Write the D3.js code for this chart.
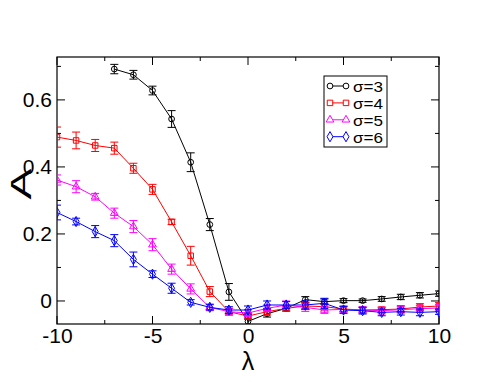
<!DOCTYPE html>
<html><head><meta charset="utf-8">
<script src="https://cdn.jsdelivr.net/npm/d3@7"></script>
<style>body{margin:0;background:#fff}svg{display:block}text{font-family:"Liberation Sans",Arial,sans-serif}</style>
</head><body><svg id="c" width="494" height="382"></svg>
<script>
const lambda = [-10,-9,-8,-7,-6,-5,-4,-3,-2,-1,0,1,2,3,4,5,6,7,8,9,10];
const sigma3 = [null,null,null,0.692,0.675,0.628,0.543,0.414,0.228,0.027,-0.061,-0.038,-0.022,0.004,-0.002,0.001,0.001,0.006,0.012,0.017,0.022];
const sigma3Err = [null,null,null,0.014,0.013,0.013,0.025,0.028,0.018,0.025,0.01,0.01,0.008,0.009,0.008,0.006,0.005,0.007,0.008,0.008,0.008];
const sigma4 = [0.489,0.479,0.464,0.456,0.396,0.333,0.236,0.135,0.028,-0.032,-0.045,-0.032,-0.022,-0.015,-0.017,-0.024,-0.027,-0.026,-0.024,-0.018,-0.015];
const sigma4Err = [0.03,0.025,0.018,0.018,0.015,0.015,0.008,0.028,0.015,0.01,0.01,0.01,0.008,0.01,0.01,0.008,0.008,0.008,0.01,0.01,0.01];
const sigma5 = [0.361,0.341,0.311,0.262,0.222,0.168,0.095,0.036,-0.019,-0.032,-0.036,-0.022,-0.012,-0.019,-0.027,-0.025,-0.027,-0.029,-0.026,-0.023,-0.021];
const sigma5Err = [0.015,0.018,0.01,0.015,0.018,0.018,0.015,0.015,0.01,0.01,0.01,0.01,0.012,0.012,0.01,0.01,0.01,0.01,0.01,0.01,0.01];
const sigma6 = [0.264,0.237,0.207,0.18,0.124,0.08,0.038,-0.004,-0.019,-0.027,-0.027,-0.012,-0.012,-0.012,-0.007,-0.027,-0.029,-0.034,-0.032,-0.034,-0.032];
const sigma6Err = [0.022,0.01,0.018,0.018,0.022,0.01,0.015,0.008,0.008,0.01,0.012,0.012,0.01,0.012,0.015,0.01,0.01,0.01,0.01,0.01,0.008];
const seriesNames = ["σ=3","σ=4","σ=5","σ=6"];
const xTicks = [-10,-5,0,5,10];
const yTicks = [0,0.2,0.4,0.6];

const series = [
  {name:seriesNames[0], vals:sigma3, errs:sigma3Err, color:"#000000", sym:"circle"},
  {name:seriesNames[1], vals:sigma4, errs:sigma4Err, color:"#ff0000", sym:"square"},
  {name:seriesNames[2], vals:sigma5, errs:sigma5Err, color:"#ff00ff", sym:"triangle"},
  {name:seriesNames[3], vals:sigma6, errs:sigma6Err, color:"#0000ff", sym:"diamond"}
];

const svg = d3.select("#c");
const L=57, R=439, T=57, B=324;
const x = d3.scaleLinear().domain([-10,10]).range([L,R]);
const y = d3.scaleLinear().domain([-0.0687,0.728]).range([B,T]);

const g = svg.append("g");
g.append("rect").attr("x",L).attr("y",T).attr("width",R-L).attr("height",B-T)
 .attr("fill","none").attr("stroke","#000").attr("stroke-width",1.2);

const xMinor = d3.range(-10,10.01,2.5);
const yMinor = d3.range(0,0.71,0.1);
const tk = g.append("g").attr("stroke","#000").attr("stroke-width",1);
xMinor.forEach(v=>{
  const len = xTicks.includes(v)?8:4;
  tk.append("line").attr("x1",x(v)).attr("x2",x(v)).attr("y1",B).attr("y2",B-len);
  tk.append("line").attr("x1",x(v)).attr("x2",x(v)).attr("y1",T).attr("y2",T+len);
});
yMinor.forEach(v=>{
  const len = yTicks.some(t=>Math.abs(t-v)<1e-6)?8:4;
  tk.append("line").attr("y1",y(v)).attr("y2",y(v)).attr("x1",L).attr("x2",L+len);
  tk.append("line").attr("y1",y(v)).attr("y2",y(v)).attr("x1",R).attr("x2",R-len);
});

const xAxis = d3.axisBottom(x).tickValues(xTicks).tickSize(0).tickPadding(4).tickFormat(d=>d);
const xa = g.append("g").attr("transform",`translate(0,${B})`).call(xAxis);
xa.select(".domain").remove();
xa.selectAll("text").attr("font-size",21).attr("fill","#000").attr("font-family","Liberation Sans, Arial, sans-serif");
const yAxis = d3.axisLeft(y).tickValues(yTicks).tickSize(0).tickPadding(5).tickFormat(d=>d===0?"0":d3.format(".1f")(d));
const ya = g.append("g").attr("transform",`translate(${L},0)`).call(yAxis);
ya.select(".domain").remove();
ya.selectAll("text").attr("font-size",21).attr("fill","#000").attr("font-family","Liberation Sans, Arial, sans-serif");

g.append("text").attr("x",248).attr("y",370).attr("text-anchor","middle").attr("font-size",25).text("λ");
g.append("text").attr("transform","translate(31,184) rotate(-90) scale(1.6,1)").attr("text-anchor","middle").attr("font-size",29).text("A");

function symPath(sym){
  const s = sym==="circle"?d3.symbolCircle: sym==="square"?d3.symbolSquare: sym==="triangle"?d3.symbolTriangle: d3.symbolDiamond;
  const size = sym==="circle"?26: sym==="square"?30: sym==="triangle"?26: 30;
  return d3.symbol().type(s).size(size)();
}

svg.append("clipPath").attr("id","clp").append("rect").attr("x",L).attr("y",T).attr("width",R-L).attr("height",B-T);
const plot = g.append("g").attr("clip-path","url(#clp)");
series.forEach(s=>{
  const pts = lambda.map((l,i)=>({l, v:s.vals[i], e:s.errs[i]})).filter(d=>d.v!==null);
  const sg = plot.append("g");
  sg.append("path").datum(pts).attr("fill","none").attr("stroke",s.color).attr("stroke-width",1)
    .attr("d",d3.line().x(d=>x(d.l)).y(d=>y(d.v)));
  pts.forEach(d=>{
    const cx=x(d.l), y1=y(d.v+d.e), y2=y(d.v-d.e);
    sg.append("line").attr("x1",cx).attr("x2",cx).attr("y1",y1).attr("y2",y2).attr("stroke",s.color).attr("stroke-width",1);
    sg.append("line").attr("x1",cx-4).attr("x2",cx+4).attr("y1",y1).attr("y2",y1).attr("stroke",s.color).attr("stroke-width",1);
    sg.append("line").attr("x1",cx-4).attr("x2",cx+4).attr("y1",y2).attr("y2",y2).attr("stroke",s.color).attr("stroke-width",1);
    sg.append("path").attr("d",symPath(s.sym)).attr("transform",`translate(${cx},${y(d.v)})`)
      .attr("fill","none").attr("stroke",s.color).attr("stroke-width",1);
  });
});

const lg = g.append("g");
lg.append("rect").attr("x",324).attr("y",76).attr("width",63).attr("height",71).attr("fill","#fff").attr("stroke","#000").attr("stroke-width",1);
series.forEach((s,i)=>{
  const yy = 86 + i*16.9;
  lg.append("line").attr("x1",330).attr("x2",346).attr("y1",yy).attr("y2",yy).attr("stroke",s.color).attr("stroke-width",1);
  [330,346].forEach(px=>lg.append("path").attr("d",symPath(s.sym)).attr("transform",`translate(${px},${yy})`).attr("fill","#fff").attr("stroke",s.color).attr("stroke-width",1));
  lg.append("text").attr("x",353).attr("y",yy+6).attr("font-size",14.5)
    .attr("textLength",30).attr("lengthAdjust","spacingAndGlyphs").text(s.name);
});
</script></body></html>
